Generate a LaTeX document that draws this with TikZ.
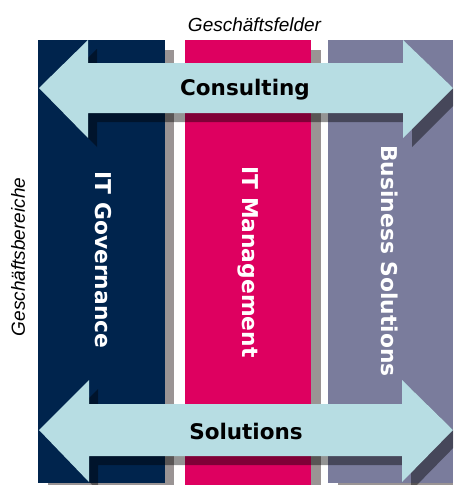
\documentclass[tikz,border=0pt]{standalone}
\usepackage{fontspec}
\setmainfont{Liberation Sans}
\newfontfamily\boldface{DejaVu Sans Bold}
\definecolor{navy}{HTML}{00244D}
\definecolor{pinkbar}{HTML}{DE0060}
\definecolor{slatebar}{HTML}{7A7C9C}
\definecolor{arrowfill}{HTML}{B7DDE3}
\definecolor{shadowgrey}{HTML}{9A9494}
\newcommand{\toparrowpath}{(39,88) -- (88,40) -- (88,63) -- (403,63) -- (403,40) -- (453,88) -- (403,138) -- (403,113) -- (88,113) -- (88,138) -- cycle}
\newcommand{\botarrowpath}{(39,430) -- (89,380) -- (89,404) -- (402,404) -- (402,380) -- (453,430) -- (402,482) -- (402,456) -- (89,456) -- (89,482) -- cycle}
\tikzset{
  column/.style={fill=#1,draw=none},
  barshadow/.style={fill=shadowgrey,draw=none},
  arrowshadow/.style={fill=black,fill opacity=0.42,draw=none,shift={(9pt,-9pt)}},
  arrowbody/.style={fill=arrowfill,draw=none},
  barlabel/.style={text=white,rotate=-90,font=\boldface\fontsize{21.8}{22}\selectfont,inner sep=0pt},
  arrowlabel/.style={text=black,font=\boldface\fontsize{21.5}{22}\selectfont,inner sep=0pt},
  axislabel/.style={text=black,font=\itshape\fontsize{19}{19}\selectfont,inner sep=0pt}
}
\begin{document}
\begin{tikzpicture}[x=1pt,y=-1pt]
\useasboundingbox (0,0) rectangle (453,485);
\clip (0,0) rectangle (453,485);
\fill[white] (0,0) rectangle (453,485);
% bar shadows
\fill[barshadow] (48,50) rectangle (174,485);
\fill[barshadow] (195,50) rectangle (321,485);
\fill[barshadow] (338,483) rectangle (453,485);
% bars
\fill[column=navy] (38,40) rectangle (165,483);
\fill[column=pinkbar] (185,40) rectangle (311,485);
\fill[column=slatebar] (328,40) rectangle (453,483);
% arrow shadows
\fill[arrowshadow] \toparrowpath;
\fill[arrowshadow] \botarrowpath;
% arrows
\fill[arrowbody] \toparrowpath;
\fill[arrowbody] \botarrowpath;
% labels
\node[axislabel] (felder) at (254.5,24.5) {Geschäftsfelder};
\node[axislabel,rotate=90] (bereiche) at (18,257) {Geschäftsbereiche};
\node[arrowlabel] (consulting) at (245,90) {Consulting};
\node[arrowlabel] (solutions) at (246,431) {Solutions};
\node[barlabel] (gov) at (103,260) {IT Governance};
\node[barlabel] (mgmt) at (248,262) {IT Management};
\node[barlabel] (biz) at (390,261) {Business Solutions};
\end{tikzpicture}
\end{document}
